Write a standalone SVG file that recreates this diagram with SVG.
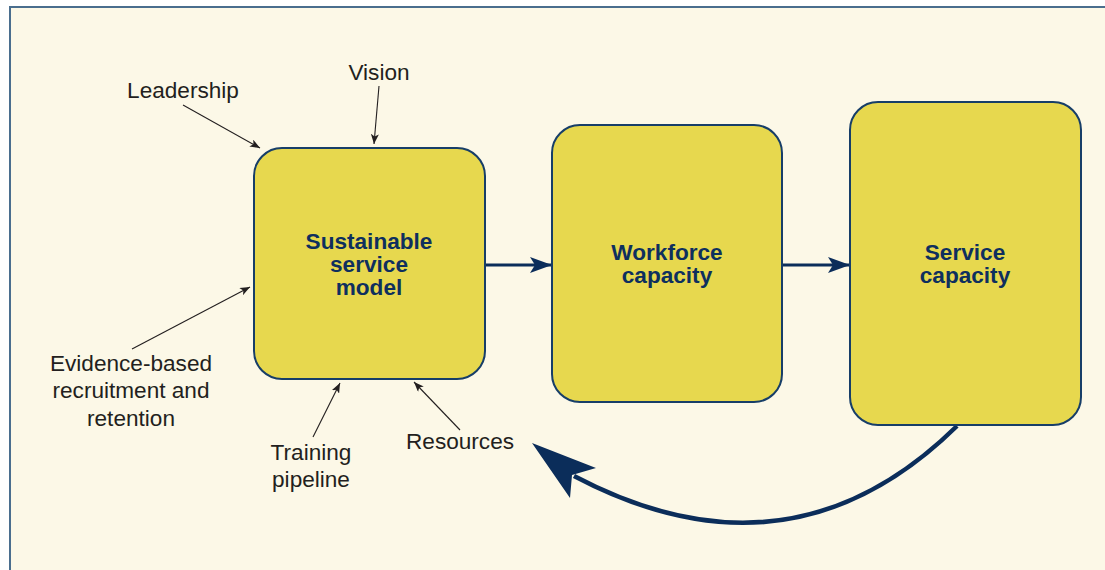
<svg xmlns="http://www.w3.org/2000/svg" width="1105" height="570" viewBox="0 0 1105 570">
<style>
.box{fill:#E7D84E;stroke:#173E68;stroke-width:2}
.bt{font-family:"Liberation Sans",Arial,sans-serif;font-weight:bold;font-size:22.6px;fill:#0E2F5E;text-anchor:middle}
.lt{font-family:"Liberation Sans",Arial,sans-serif;font-size:22.6px;fill:#231F20;text-anchor:middle}
.thin{stroke:#231F20;stroke-width:1.1;fill:none;marker-end:url(#sm)}
.thick{stroke:#0B2D5A;stroke-width:3;fill:none;marker-end:url(#bm)}
</style>
<defs>
<marker id="sm" viewBox="0 0 10 8" refX="10" refY="4" markerWidth="10" markerHeight="8" markerUnits="userSpaceOnUse" orient="auto">
<path d="M0,0 L10,4 L0,8 L2.5,4 Z" fill="#231F20"/>
</marker>
<marker id="bm" viewBox="0 0 22 16" refX="22" refY="8" markerWidth="22" markerHeight="16" markerUnits="userSpaceOnUse" orient="auto">
<path d="M0,0 L22,8 L0,16 L5,8 Z" fill="#0B2D5A"/>
</marker>
</defs>
<rect x="0" y="0" width="1105" height="570" fill="#FFFFFF"/>
<rect x="10" y="7" width="1200" height="700" fill="#FCF8E7" stroke="#4A6E8E" stroke-width="2"/>

<g id="connectors">
<line class="thin" x1="183" y1="105" x2="260" y2="148"/>
<line class="thin" x1="379" y1="86" x2="374" y2="144"/>
<line class="thin" x1="132" y1="349" x2="250" y2="287"/>
<line class="thin" x1="313" y1="437" x2="340" y2="383"/>
<line class="thin" x1="460" y1="430" x2="414" y2="382"/>
<line class="thick" x1="485" y1="265" x2="552" y2="265"/>
<line class="thick" x1="782" y1="265" x2="850" y2="265"/>
<path d="M957,426 Q790,590 574,476" fill="none" stroke="#0B2D5A" stroke-width="4.5"/>
<polygon points="532,443 596,468 572,475 570,498" fill="#0B2D5A"/>
</g>

<g id="node-sustainable">
<rect class="box" x="254" y="148" width="231" height="231" rx="28"/>
<text class="bt" x="369" y="249">Sustainable</text>
<text class="bt" x="369" y="272">service</text>
<text class="bt" x="369" y="295">model</text>
</g>
<g id="node-workforce">
<rect class="box" x="552" y="125" width="230" height="277" rx="28"/>
<text class="bt" x="667" y="260">Workforce</text>
<text class="bt" x="667" y="283">capacity</text>
</g>
<g id="node-service">
<rect class="box" x="850" y="102" width="231" height="323" rx="28"/>
<text class="bt" x="965" y="260">Service</text>
<text class="bt" x="965" y="283">capacity</text>
</g>

<g id="label-leadership"><text class="lt" x="183" y="98">Leadership</text></g>
<g id="label-vision"><text class="lt" x="379" y="80">Vision</text></g>
<g id="label-evidence">
<text class="lt" x="131" y="371">Evidence-based</text>
<text class="lt" x="131" y="398">recruitment and</text>
<text class="lt" x="131" y="426">retention</text>
</g>
<g id="label-training">
<text class="lt" x="311" y="460">Training</text>
<text class="lt" x="311" y="487">pipeline</text>
</g>
<g id="label-resources"><text class="lt" x="460" y="449">Resources</text></g>
</svg>
